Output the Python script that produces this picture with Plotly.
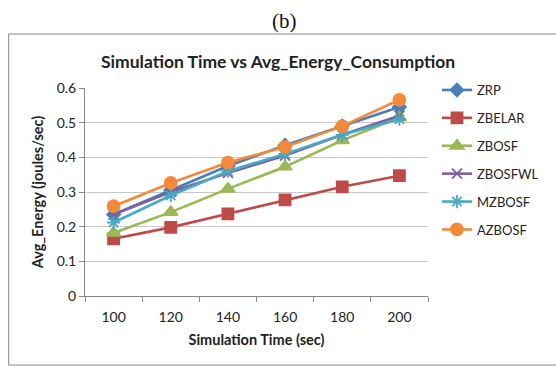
import plotly.graph_objects as go

sim_time = [100, 120, 140, 160, 180, 200]
ZRP = [0.235, 0.305, 0.375, 0.435, 0.490, 0.545]
ZBELAR = [0.165, 0.198, 0.237, 0.277, 0.315, 0.347]
ZBOSF = [0.182, 0.242, 0.309, 0.373, 0.449, 0.515]
ZBOSFWL = [0.235, 0.300, 0.355, 0.405, 0.465, 0.520]
MZBOSF = [0.212, 0.290, 0.360, 0.410, 0.465, 0.510]
AZBOSF = [0.259, 0.326, 0.385, 0.430, 0.490, 0.566]

series = [
    ("ZRP", ZRP, "#4A7EBB", "diamond", 10),
    ("ZBELAR", ZBELAR, "#BE4B48", "square", 11),
    ("ZBOSF", ZBOSF, "#98B954", "triangle-up", 12),
    ("ZBOSFWL", ZBOSFWL, "#7D60A0", "x-thin-open", 10),
    ("MZBOSF", MZBOSF, "#46AAC5", "asterisk-open", 11),
    ("AZBOSF", AZBOSF, "#F38A3A", "circle", 12),
]

W, H = 556, 366
L, R, T, B = 85, 125, 88, 70
pw = W - L - R
ph = H - T - B

fig = go.Figure()
for name, vals, col, sym, sz in series:
    fig.add_trace(go.Scatter(
        x=sim_time, y=vals, name=name, mode="lines+markers",
        legendgroup=name,
        line=dict(color=col, width=2.6),
        marker=dict(symbol=sym, size=sz, color=col, line=dict(color=col, width=1.8)),
    ))

font_fam = "Lato, 'Open Sans', sans-serif"

def px_x(p):
    return (p - L) / pw

def px_y(p):
    return (H - B - p) / ph

fig.update_layout(
    width=W, height=H,
    margin=dict(l=L, r=R, t=T, b=B),
    paper_bgcolor="white", plot_bgcolor="white",
    font=dict(family=font_fam, size=14, color="#222"),
    showlegend=True,
    legend=dict(x=px_x(548), y=px_y(75), xanchor="right", yanchor="top",
                font=dict(size=13, color="#222"), tracegroupgap=8,
                itemwidth=30, bgcolor="rgba(0,0,0,0)"),
    xaxis=dict(range=[90, 210], tickvals=sim_time, ticks="", showgrid=False,
               showline=True, linecolor="#888", linewidth=1, zeroline=False,
               tickfont=dict(size=14), ticklabelstandoff=8,
               minor=dict(tickvals=[90, 110, 130, 150, 170, 190, 210], ticks="outside",
                          ticklen=5, tickcolor="#888", showgrid=False),
               title=dict(text="<b>Simulation Time (sec)</b>", font=dict(size=14.5), standoff=11)),
    yaxis=dict(range=[0, 0.6], tickvals=[0, 0.1, 0.2, 0.3, 0.4, 0.5, 0.6],
               ticktext=["0", "0.1", "0.2", "0.3", "0.4", "0.5", "0.6"],
               showgrid=True, gridcolor="#C8C8C8", gridwidth=1,
               showline=True, linecolor="#888", linewidth=1, zeroline=False,
               ticks="outside", ticklen=5, tickcolor="#888",
               tickfont=dict(size=14),
               title=dict(text="<b>Avg_Energy (joules/sec)</b>", font=dict(size=14.5), standoff=9)),
    shapes=[dict(type="rect", xref="paper", yref="paper",
                 x0=px_x(8), x1=px_x(600), y0=px_y(365), y1=px_y(34),
                 line=dict(color="#888", width=1), layer="below")],
    annotations=[
        dict(text="(b)", xref="paper", yref="paper", x=px_x(286), y=px_y(21),
             showarrow=False, font=dict(family="Liberation Serif, serif", size=21, color="#111"),
             xanchor="center", yanchor="middle"),
        dict(text="<b>Simulation Time vs Avg_Energy_Consumption</b>", xref="paper", yref="paper",
             x=px_x(280), y=px_y(61), showarrow=False, font=dict(size=17.5, color="#222"),
             xanchor="center", yanchor="middle"),
    ],
)

fig.write_html("out.html")
